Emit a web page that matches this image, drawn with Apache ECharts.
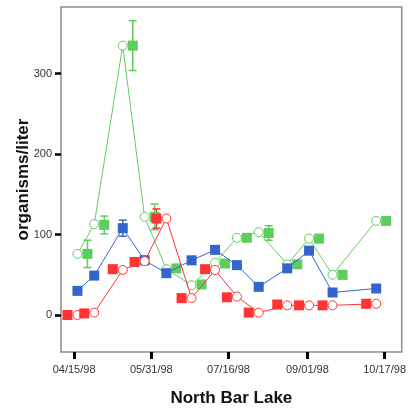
<!DOCTYPE html>
<html>
<head>
<meta charset="utf-8">
<script src="https://cdn.jsdelivr.net/npm/echarts@6/dist/echarts.min.js"></script>
<style>
  html, body {margin: 0; padding: 0; background: #fff;}
  #chart {width: 409px; height: 415px;}
</style>
</head>
<body>
<div id="chart"></div>
<script>
// sample dates and tick dates
const sampleDates = ['04/17/98','04/27/98','05/14/98','05/27/98','06/09/98','06/24/98','07/08/98',
  '07/21/98','08/03/98','08/20/98','09/02/98','09/16/98','10/12/98'];
const tickDates = ['04/15/98','05/31/98','07/16/98','09/01/98','10/17/98'];
const yTicks = [0, 100, 200, 300];

// green: circles on the line, squares beside them (with error)
const greenLine = [76, 113, 335, 122, 57, 37, 65, 96, 103, 63, 95, 50, 117];
const greenMean = [76, 112, 335, 122, 58, 38, 64, 96, 102, 63, 95, 50, 117];
const greenErr  = [17, 11, 31, 16, 0, 0, 0, 0, 9, 0, 0, 5, 3];

// blue: squares on the line
const blueMean = [30, 49, 108, 68, 52, 68, 81, 62, 35, 58, 80, 28, 33];
const blueErr  = [4, 0, 10, 5, 0, 0, 0, 0, 0, 0, 0, 0, 4];

// red: circles on the line, squares beside them
const redLine = [0, 3, 56, 67, 120, 21, 56, 23, 3, 12, 12, 12, 14];
const redMean = [0, 2, 57, 66, 120, 21, 57, 22, 3, 13, 12, 12, 14];
const redErr  = [0, 0, 0, 0, 12, 0, 0, 0, 0, 0, 0, 0, 0];

function dayOf(s) {
  const p = s.split('/');
  return (Date.UTC(1900 + +p[2], +p[0] - 1, +p[1]) - Date.UTC(1998, 3, 15)) / 86400000;
}
const xs = sampleDates.map(dayOf);
const tickDays = tickDates.map(dayOf);
const labelOf = {};
tickDays.forEach((d, i) => labelOf[d] = tickDates[i]);

const GREEN = '#5fcc5f', BLUE = '#3366cc', RED = '#ff3333';

function pts(vals) { return vals.map((v, i) => [xs[i], v]); }
function errPts(vals, errs) {
  return vals.map((v, i) => [xs[i], v, errs[i]]).filter(d => d[2] > 0);
}
function errSeries(vals, errs, color, dx) {
  return {
    type: 'custom',
    silent: true,
    z: 1,
    data: errPts(vals, errs),
    renderItem(params, api) {
      const x = api.value(0), y = api.value(1), e = api.value(2);
      const a = api.coord([x, y + e]), b = api.coord([x, y - e]);
      const cx = a[0] + dx;
      const st = {stroke: color, lineWidth: 1.5};
      return {
        type: 'group',
        children: [
          {type: 'line', shape: {x1: cx, y1: a[1], x2: cx, y2: b[1]}, style: st},
          {type: 'line', shape: {x1: cx - 4, y1: a[1], x2: cx + 4, y2: a[1]}, style: st},
          {type: 'line', shape: {x1: cx - 4, y1: b[1], x2: cx + 4, y2: b[1]}, style: st}
        ]
      };
    }
  };
}

const chart = echarts.init(document.getElementById('chart'));
chart.setOption({
  animation: false,
  grid: {left: 61, right: 4, top: 7, bottom: 63, show: true, borderColor: '#8c8c8c', borderWidth: 1.5},
  xAxis: {
    type: 'value',
    min: -7.8,
    max: 195.2,
    splitLine: {show: false},
    axisLine: {show: false, onZero: false},
    axisTick: {show: true, customValues: tickDays, length: 7, lineStyle: {color: '#000', width: 3}},
    axisLabel: {
      customValues: tickDays,
      margin: 12,
      fontFamily: 'Liberation Sans',
      fontSize: 11,
      color: '#333',
      formatter: v => labelOf[v] || ''
    },
    name: 'North Bar Lake',
    nameLocation: 'middle',
    nameGap: 38,
    nameTextStyle: {fontFamily: 'Liberation Sans', fontSize: 17, fontWeight: 'bold', color: '#111'}
  },
  yAxis: {
    type: 'value',
    min: -46,
    max: 383,
    splitLine: {show: false},
    axisLine: {show: false, onZero: false},
    axisTick: {show: true, customValues: yTicks, length: 6, lineStyle: {color: '#000', width: 2.5}},
    axisLabel: {
      customValues: yTicks,
      margin: 9,
      fontFamily: 'Liberation Sans',
      fontSize: 11,
      color: '#333'
    },
    name: 'organisms/liter',
    nameLocation: 'middle',
    nameGap: 29,
    nameMoveOverlap: false,
    nameTextStyle: {fontFamily: 'Liberation Sans', fontSize: 17, fontWeight: 'bold', color: '#111'}
  },
  series: [
    errSeries(greenMean, greenErr, GREEN, 10),
    errSeries(blueMean, blueErr, BLUE, 0),
    errSeries(redMean, redErr, RED, -10),
    {
      type: 'line', data: pts(greenLine), z: 2,
      symbol: 'circle', symbolSize: 9, showAllSymbol: true,
      lineStyle: {color: GREEN, width: 1},
      itemStyle: {color: '#fff', borderColor: GREEN, borderWidth: 1}
    },
    {
      type: 'scatter', data: pts(greenMean), z: 3,
      symbol: 'rect', symbolSize: 10, symbolOffset: [10, 0],
      itemStyle: {color: GREEN, opacity: 1}
    },
    {
      type: 'line', data: pts(blueMean), z: 4,
      symbol: 'rect', symbolSize: 10, showAllSymbol: true,
      lineStyle: {color: BLUE, width: 1},
      itemStyle: {color: BLUE}
    },
    {
      type: 'line', data: pts(redLine), z: 5,
      symbol: 'circle', symbolSize: 9, showAllSymbol: true,
      lineStyle: {color: RED, width: 1},
      itemStyle: {color: '#fff', borderColor: RED, borderWidth: 1}
    },
    {
      type: 'scatter', data: pts(redMean), z: 6,
      symbol: 'rect', symbolSize: 10, symbolOffset: [-10, 0],
      itemStyle: {color: RED, opacity: 1}
    }
  ]
});
</script>
</body>
</html>
